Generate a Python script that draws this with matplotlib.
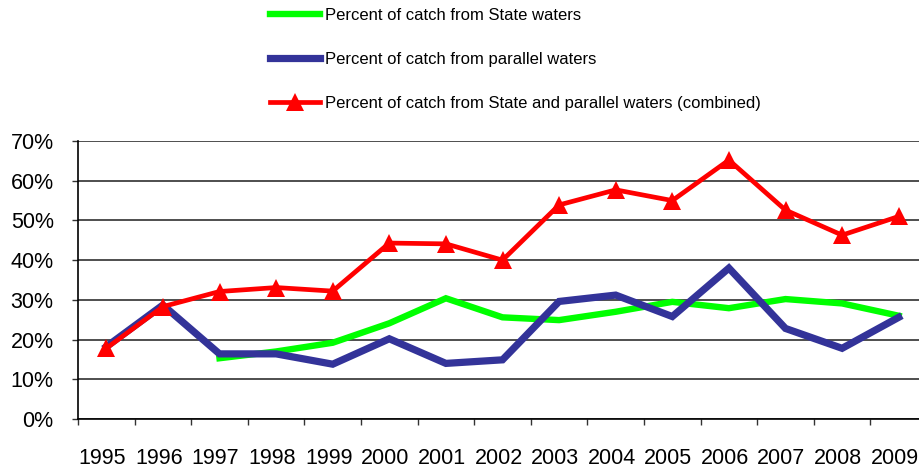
import matplotlib
matplotlib.use("Agg")
import matplotlib.pyplot as plt
import matplotlib.transforms as mtransforms
import numpy as np

years = ["1995", "1996", "1997", "1998", "1999", "2000", "2001", "2002",
         "2003", "2004", "2005", "2006", "2007", "2008", "2009"]
state = [np.nan, np.nan, 15.3, 17.0, 19.2, 24.1, 30.4, 25.6,
         24.9, 27.0, 29.5, 27.9, 30.2, 29.1, 26.0]
parallel = [18.2, 28.7, 16.4, 16.4, 13.8, 20.2, 14.0, 14.9,
            29.6, 31.2, 25.8, 38.0, 22.8, 17.8, 25.6]
combined = [17.8, 28.3, 32.1, 33.1, 32.2, 44.3, 44.1, 40.0,
            53.9, 57.7, 55.0, 65.2, 52.6, 46.3, 51.0]
yticks = [0, 10, 20, 30, 40, 50, 60, 70]
labels = ["Percent of catch from State waters",
          "Percent of catch from parallel waters",
          "Percent of catch from State and parallel waters (combined)"]

plt.rcParams['font.family'] = ['Liberation Sans', 'DejaVu Sans']

fig = plt.figure(figsize=(9.19, 4.71), dpi=100)
W, H = 919, 471
left, right, top, bottom = 78, 927, 141, 419
ax = fig.add_axes([left / W, 1 - bottom / H, (right - left) / W, (bottom - top) / H])

x = np.arange(len(years))
l1, = ax.plot(x, state, color='#00FF00', lw=4.6, solid_joinstyle='miter', zorder=3)
l2, = ax.plot(x, parallel, color='#333399', lw=5.2, solid_joinstyle='miter', zorder=4)
l3, = ax.plot(x, combined, color='#FF0000', lw=3.4, marker='^', markersize=12.5,
              markeredgewidth=0, zorder=5)

ax.set_xlim(-0.5, len(years) - 0.5)
ax.set_ylim(0, 70)
ax.set_yticks(yticks)
ax.set_yticklabels([f"{v}%" for v in yticks], fontsize=15.5)
ax.yaxis.grid(True, color='#404040', lw=1.3)
ax.set_axisbelow(True)

ax.set_xticks(np.arange(len(years) + 1) - 0.5)
ax.set_xticklabels([])
ax.set_xticks(x, minor=True)
ax.set_xticklabels(years, minor=True, fontsize=15.5)
ax.tick_params(axis='x', which='minor', length=0, pad=21)
ax.tick_params(axis='x', which='major', length=4.5, width=1, color='#333333', direction='out')
ax.tick_params(axis='y', length=4.5, width=1, color='#333333', direction='out', pad=13)

shift = mtransforms.ScaledTranslation(-4 / 100, 0, fig.dpi_scale_trans)
for lab in ax.xaxis.get_minorticklabels():
    lab.set_transform(lab.get_transform() + shift)

for s in ['top', 'right']:
    ax.spines[s].set_visible(False)
ax.spines['left'].set_color('black')
ax.spines['bottom'].set_color('black')
ax.spines['left'].set_linewidth(1.2)
ax.spines['bottom'].set_linewidth(1.2)

fig.legend([l1, l2, l3], labels, loc='upper left',
           bbox_to_anchor=(270 / W, 1 - 8 / H), frameon=False, fontsize=12,
           handlelength=3.0, handletextpad=0.3, labelspacing=1.75,
           borderpad=0, borderaxespad=0, numpoints=1)

fig.savefig("out.png", dpi=100)
